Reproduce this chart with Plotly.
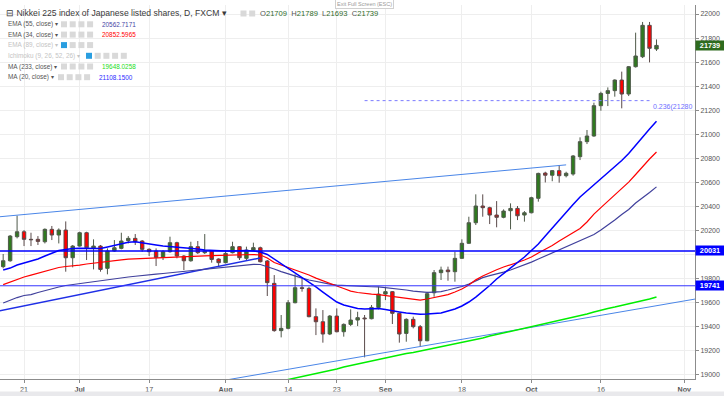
import plotly.graph_objects as go

# ---------------- data ----------------
dates = [
    "2017-06-16",
    "2017-06-19", "2017-06-20", "2017-06-21", "2017-06-22", "2017-06-23",
    "2017-06-26", "2017-06-27", "2017-06-28", "2017-06-29", "2017-06-30",
    "2017-07-03", "2017-07-04", "2017-07-05", "2017-07-06", "2017-07-07",
    "2017-07-10", "2017-07-11", "2017-07-12", "2017-07-13", "2017-07-14",
    "2017-07-17", "2017-07-18", "2017-07-19", "2017-07-20", "2017-07-21",
    "2017-07-24", "2017-07-25", "2017-07-26", "2017-07-27", "2017-07-28",
    "2017-07-31", "2017-08-01", "2017-08-02", "2017-08-03", "2017-08-04",
    "2017-08-07", "2017-08-08", "2017-08-09", "2017-08-10", "2017-08-11",
    "2017-08-14", "2017-08-15", "2017-08-16", "2017-08-17", "2017-08-18",
    "2017-08-21", "2017-08-22", "2017-08-23", "2017-08-24", "2017-08-25",
    "2017-08-28", "2017-08-29", "2017-08-30", "2017-08-31", "2017-09-01",
    "2017-09-04", "2017-09-05", "2017-09-06", "2017-09-07", "2017-09-08",
    "2017-09-11", "2017-09-12", "2017-09-13", "2017-09-14", "2017-09-15",
    "2017-09-18", "2017-09-19", "2017-09-20", "2017-09-21", "2017-09-22",
    "2017-09-25", "2017-09-26", "2017-09-27", "2017-09-28", "2017-09-29",
    "2017-10-02", "2017-10-03", "2017-10-04", "2017-10-05", "2017-10-06",
    "2017-10-09", "2017-10-10", "2017-10-11", "2017-10-12", "2017-10-13",
    "2017-10-16", "2017-10-17", "2017-10-18", "2017-10-19", "2017-10-20",
    "2017-10-23", "2017-10-24", "2017-10-25", "2017-10-26",
]

opens = [19900, 19949, 20149, 20190, 20127, 20127, 20107, 20210, 20163, 20204,
         19974, 20071, 20182, 20055, 20071, 19886, 20030, 20052, 20116, 20135,
         20113, 20044, 20030, 19977, 20024, 20099, 19988, 19949, 20066, 20016,
         20030, 19963, 19933, 20016, 20066, 19969, 20038, 20057, 19947, 19761,
         19368, 19387, 19600, 19725, 19719, 19484, 19442, 19340, 19489, 19359,
         19420, 19456, 19473, 19467, 19561, 19672, 19692, 19512, 19345, 19462,
         19401, 19284, 19683, 19850, 19872, 19858, 19969, 20094, 20265, 20404,
         20390, 20329, 20310, 20365, 20384, 20329, 20348, 20468, 20678, 20660,
         20698, 20656, 20670, 20814, 20939, 20986, 21238, 21340, 21363, 21451,
         21335, 21562, 21645, 21906, 21709]
highs = [20005, 20163, 20324, 20204, 20182, 20154, 20218, 20238, 20218, 20276,
         20080, 20190, 20190, 20127, 20080, 20052, 20121, 20182, 20154, 20171,
         20121, 20052, 20052, 20038, 20149, 20107, 19996, 20107, 20113, 20171,
         20038, 19969, 20038, 20107, 20071, 20066, 20099, 20066, 19955, 19830,
         19498, 19622, 19836, 19803, 19733, 19553, 19539, 19498, 19553, 19428,
         19545, 19525, 19498, 19581, 19733, 19733, 19697, 19517, 19470, 19484,
         19415, 19690, 19872, 19900, 19900, 20024, 20127, 20315, 20501, 20501,
         20398, 20445, 20376, 20426, 20404, 20362, 20481, 20681, 20689, 20703,
         20745, 20689, 20828, 20975, 21036, 21263, 21354, 21390, 21457, 21521,
         21568, 21845, 21934, 21934, 21789]
lows = [19886, 19941, 20135, 20071, 20071, 20080, 20093, 20121, 20093, 19858,
        19894, 20066, 19955, 19877, 19858, 19836, 20024, 20044, 20093, 20080,
        20024, 19988, 19905, 19955, 20016, 19969, 19872, 19941, 20005, 20005,
        19933, 19905, 19927, 20010, 19955, 19955, 20030, 19935, 19656, 19359,
        19312, 19379, 19595, 19692, 19479, 19331, 19268, 19331, 19354, 19318,
        19406, 19406, 19146, 19462, 19545, 19622, 19423, 19268, 19276, 19387,
        19235, 19280, 19650, 19789, 19783, 19775, 19965, 20088, 20246, 20315,
        20254, 20227, 20302, 20210, 20287, 20274, 20343, 20440, 20600, 20610,
        20598, 20642, 20656, 20786, 20919, 20980, 21196, 21235, 21313, 21216,
        21318, 21555, 21634, 21598, 21693]
closes = [19949, 20154, 20190, 20127, 20124, 20110, 20210, 20163, 20204, 19974,
          20071, 20182, 20057, 20071, 19877, 20030, 20057, 20113, 20135, 20107,
          20044, 20024, 19977, 20024, 20099, 19988, 19949, 20066, 20016, 20030,
          19960, 19933, 20010, 20066, 19974, 20038, 20058, 19941, 19767, 19368,
          19387, 19600, 19725, 19719, 19484, 19442, 19340, 19489, 19359, 19420,
          19456, 19476, 19467, 19561, 19672, 19692, 19512, 19340, 19462, 19401,
          19284, 19675, 19850, 19872, 19858, 19969, 20094, 20265, 20404, 20390,
          20329, 20310, 20362, 20384, 20323, 20348, 20473, 20675, 20660, 20698,
          20656, 20676, 20820, 20939, 20986, 21238, 21340, 21363, 21451, 21335,
          21562, 21651, 21906, 21715, 21739]

ma20 = [19872, 19888, 19913, 19930, 19947, 19963, 19988, 20013, 20034, 20042,
        20051, 20052, 20050, 20049, 20051, 20064, 20078, 20092, 20103, 20107,
        20100, 20090, 20080, 20071, 20067, 20063, 20059, 20055, 20046, 20038,
        20034, 20030, 20030, 20030, 20034, 20034, 20030, 20022, 20001, 19963,
        19922, 19888, 19847, 19805, 19772, 19731, 19689, 19647, 19606, 19581,
        19564, 19552, 19548, 19552, 19552, 19543, 19531, 19523, 19514, 19506,
        19504, 19506, 19510, 19514, 19531, 19548, 19573, 19606, 19647, 19693,
        19743, 19797, 19843, 19888, 19930, 19980, 20034, 20088, 20154, 20221,
        20287, 20354, 20416, 20479, 20529, 20578, 20624, 20674, 20724, 20782,
        20840, 20911, 20977, 21044, 21108]
ema34 = [19751, 19772, 19797, 19814, 19830, 19847, 19864, 19880, 19893, 19901,
         19905, 19913, 19922, 19930, 19938, 19944, 19951, 19957, 19962, 19965,
         19967, 19969, 19972, 19976, 19980, 19982, 19984, 19986, 19988, 19990,
         19992, 19994, 19997, 19997, 20001, 20001, 20001, 19997, 19972, 19934,
         19913, 19893, 19872, 19855, 19830, 19805, 19785, 19764, 19739, 19718,
         19697, 19685, 19677, 19672, 19668, 19660, 19652, 19643, 19635, 19627,
         19622, 19631, 19643, 19652, 19668, 19689, 19714, 19747, 19790, 19822,
         19850, 19874, 19897, 19913, 19934, 19955, 19980, 20013, 20042, 20076,
         20113, 20146, 20180, 20217, 20271, 20337, 20391, 20445, 20499, 20553,
         20603, 20666, 20732, 20795, 20853]
ema55 = [19598, 19622, 19643, 19660, 19668, 19685, 19701, 19718, 19731, 19743,
         19751, 19760, 19768, 19780, 19788, 19794, 19801, 19807, 19814, 19820,
         19824, 19830, 19837, 19843, 19849, 19856, 19864, 19870, 19876, 19882,
         19888, 19895, 19901, 19907, 19913, 19918, 19919, 19918, 19901, 19880,
         19859, 19839, 19822, 19805, 19789, 19776, 19764, 19755, 19747, 19743,
         19739, 19736, 19735, 19733, 19731, 19726, 19720, 19714, 19706, 19697,
         19689, 19686, 19689, 19693, 19706, 19718, 19735, 19755, 19785, 19809,
         19826, 19839, 19855, 19872, 19893, 19913, 19938, 19963, 19988, 20013,
         20038, 20063, 20088, 20113, 20138, 20167, 20204, 20242, 20287, 20333,
         20375, 20429, 20470, 20516, 20563]
ma233_start = 40  # MA(233) is only visible from mid-August
ma233 = [18949, 18961, 18974, 18986, 18999, 19011, 19024, 19036, 19049, 19065,
         19078, 19090, 19103, 19115, 19128, 19140, 19153, 19165, 19178, 19186,
         19198, 19207, 19219, 19232, 19244, 19256, 19269, 19281, 19294, 19307,
         19323, 19336, 19348, 19361, 19373, 19386, 19398, 19410, 19423, 19435,
         19452, 19465, 19477, 19490, 19506, 19523, 19540, 19552, 19564, 19577,
         19589, 19606, 19618, 19631, 19648]

# drawn objects
upper_trend_dates = ["2017-06-15", "2017-10-09"]
upper_trend_vals = [20312, 20746]
lower_trend_dates = ["2017-07-28", "2017-11-03"]
lower_trend_vals = [18937, 19635]
blue_trend_dates = ["2017-06-15", "2017-08-08"]
blue_trend_vals = [19527, 19972]
fib_dates = ["2017-08-29", "2017-10-25"]
fib_level = 21280
fib_label = "0.236(21280"
level_lines = [20031, 19741]
last_close = 21739

x_tick_dates = ["2017-06-21", "2017-07-03", "2017-07-17", "2017-08-01", "2017-08-14",
                "2017-08-23", "2017-09-01", "2017-09-18", "2017-10-02", "2017-10-16",
                "2017-11-01"]
x_tick_text = ["21", "<b>Jul</b>", "17", "<b>Aug</b>", "14", "23", "<b>Sep</b>", "18",
               "<b>Oct</b>", "16", "<b>Nov</b>"]
# price ticks; the 20000 label is hidden behind the 20031 marker in the reference
y_tick_vals = [19000, 19200, 19400, 19600, 19800, 20000, 20200, 20400, 20600, 20800,
               21000, 21200, 21400, 21600, 21800, 22000]
y_tick_text = ["19000", "19200", "19400", "19600", "19800", "", "20200", "20400", "20600",
               "20800", "21000", "21200", "21400", "21600", "21800", "22000"]

title_text = "⊟ Nikkei 225 index of Japanese listed shares, D, FXCM ▾"
ohlc_text = ("O<span style='color:#2f6b2a'>21709</span>  H<span style='color:#2f6b2a'>21789</span>  "
             "L<span style='color:#2f6b2a'>21693</span>  C<span style='color:#2f6b2a'>21739</span>")
legend_rows = [
    ("EMA (55, close) ▾", "#555555", "20562.7171", "#4545a5", 4, False),
    ("EMA (34, close) ▾", "#555555", "20852.5965", "#ff0000", 4, False),
    ("EMA (89, close) ▾", "#c4c4c4", "", "#000000", 4, True),
    ("Ichimoku (9, 26, 52, 26) ▾", "#c4c4c4", "", "#000000", 5, True),
    ("MA (233, close) ▾", "#555555", "19648.0258", "#22dd22", 4, False),
    ("MA (20, close) ▾", "#555555", "21108.1500", "#2a2aff", 4, False),
]

# ---------------- layout geometry ----------------
W, H = 724, 396
ML, MR, MT, MB = 0, 29, 5, 17
PW, PH = W - ML - MR, H - MT - MB
FONT = "Liberation Sans, Arial, sans-serif"


def px(x):
    return (x - ML) / PW


def py(y):
    return (H - MB - y) / PH


fig = go.Figure()

fig.add_trace(go.Candlestick(
    x=dates, open=opens, high=highs, low=lows, close=closes,
    increasing=dict(fillcolor="#2f7a1f", line=dict(color="#4f5a4a", width=1)),
    decreasing=dict(fillcolor="#ff0000", line=dict(color="#5a4a4a", width=1)),
    whiskerwidth=0, showlegend=False, hoverinfo="skip"))

# drawn trend lines
fig.add_trace(go.Scatter(x=upper_trend_dates, y=upper_trend_vals, mode="lines",
                         line=dict(color="#4a86e8", width=1), showlegend=False, hoverinfo="skip"))
fig.add_trace(go.Scatter(x=lower_trend_dates, y=lower_trend_vals, mode="lines",
                         line=dict(color="#4a86e8", width=1), showlegend=False, hoverinfo="skip"))
fig.add_trace(go.Scatter(x=blue_trend_dates, y=blue_trend_vals, mode="lines",
                         line=dict(color="#1f2fe6", width=1.5), showlegend=False, hoverinfo="skip"))

# indicator lines
fig.add_trace(go.Scatter(x=dates[ma233_start:], y=ma233, mode="lines",
                         line=dict(color="#00ee00", width=1.5), showlegend=False, hoverinfo="skip"))
fig.add_trace(go.Scatter(x=dates, y=ema55, mode="lines",
                         line=dict(color="#40409c", width=1.2), showlegend=False, hoverinfo="skip"))
fig.add_trace(go.Scatter(x=dates, y=ema34, mode="lines",
                         line=dict(color="#ff0000", width=1.2), showlegend=False, hoverinfo="skip"))
fig.add_trace(go.Scatter(x=dates, y=ma20, mode="lines",
                         line=dict(color="#0000ff", width=1.5), showlegend=False, hoverinfo="skip"))

# fib level
fig.add_trace(go.Scatter(x=fib_dates, y=[fib_level, fib_level], mode="lines",
                         line=dict(color="#7b7bff", width=1, dash="dot"), showlegend=False, hoverinfo="skip"))

# horizontal levels
fig.add_hline(y=level_lines[0], line=dict(color="#0000ff", width=1.5))
fig.add_hline(y=level_lines[1], line=dict(color="#3535ff", width=1))

ann = []
# price labels on axis
for val, bg in [(last_close, "#2e6b1e"), (level_lines[0], "#0000ff"), (level_lines[1], "#0000ff")]:
    ann.append(dict(x=1, xref="paper", y=val, yref="y", xanchor="left", yanchor="middle",
                    text="<b>%d</b>" % val, showarrow=False, bgcolor=bg, width=26, height=7,
                    borderpad=1, font=dict(family=FONT, size=7.3, color="white")))
# fib label
ann.append(dict(x=fib_dates[1], xref="x", y=fib_level, yref="y", xanchor="left", yanchor="top",
                xshift=1, text=fib_label, showarrow=False,
                font=dict(family=FONT, size=7, color="#6f6fff")))

# title / OHLC
ann.append(dict(x=px(4), y=py(13), xref="paper", yref="paper", xanchor="left", yanchor="middle",
                text=title_text, showarrow=False, font=dict(family=FONT, size=8.6, color="#3a3a3a")))
ann.append(dict(x=px(258), y=py(13.5), xref="paper", yref="paper", xanchor="left", yanchor="middle",
                text=ohlc_text, showarrow=False, font=dict(family=FONT, size=7.6, color="#555555")))
# "Exit Full Screen" tooltip
ann.append(dict(x=px(364), y=py(3.6), xref="paper", yref="paper", xanchor="center", yanchor="middle",
                text="Exit Full Screen (ESC)", showarrow=False, bgcolor="white",
                bordercolor="#d0d0d0", borderwidth=1, borderpad=1,
                font=dict(family=FONT, size=5.5, color="#9a9a9a")))

shapes = []


def icon_row(x0, yc, n, first_blue):
    for k in range(n):
        xl = x0 + k * 8.7
        col = "#2a9ee0" if (first_blue and k == 0) else "#d9d9d9"
        shapes.append(dict(type="rect", xref="paper", yref="paper",
                           x0=px(xl), x1=px(xl + 6), y0=py(yc + 3), y1=py(yc - 3),
                           fillcolor=col, line=dict(width=0), layer="above"))


row_y = [24.3, 34.6, 45.1, 55.8, 66.5, 77.2]
for (label, lcol, val, vcol, nicons, blue), yc in zip(legend_rows, row_y):
    ann.append(dict(x=px(5.5), y=py(yc), xref="paper", yref="paper", xanchor="left", yanchor="middle",
                    text=label, showarrow=False, font=dict(family=FONT, size=6.4, color=lcol)))
    start = 86 if nicons == 5 else (58 if label.startswith("MA (20") else 61)
    icon_row(start, yc, nicons, blue)
    if val:
        vx = start + nicons * 8.7 + 4
        ann.append(dict(x=px(vx), y=py(yc), xref="paper", yref="paper", xanchor="left", yanchor="middle",
                        text=val, showarrow=False, font=dict(family=FONT, size=6.4, color=vcol)))

# title row icons
icon_row(240.5, 13.5, 2, False)
# bottom toolbar strip
shapes.append(dict(type="rect", xref="paper", yref="paper", x0=0, x1=px(W), y0=py(H), y1=py(391.5),
                   fillcolor="#e9e9ec", line=dict(width=0), layer="above"))

fig.update_layout(
    width=W, height=H,
    margin=dict(l=ML, r=MR, t=MT, b=MB),
    paper_bgcolor="white", plot_bgcolor="white",
    showlegend=False,
    annotations=ann,
    shapes=list(fig.layout.shapes) + shapes,
    font=dict(family=FONT),
    xaxis=dict(
        type="date",
        range=["2017-06-15 13:00", "2017-11-02 13:00"],
        rangebreaks=[dict(bounds=["sat", "mon"])],
        rangeslider=dict(visible=False),
        tickmode="array", tickvals=x_tick_dates, ticktext=x_tick_text,
        showgrid=True, gridcolor="#eeeeee", gridwidth=1,
        showline=True, linecolor="#8c8c8c", linewidth=1,
        ticks="outside", ticklen=3, tickcolor="#8c8c8c",
        tickfont=dict(family=FONT, size=7.2, color="#555555"),
        fixedrange=True,
    ),
    yaxis=dict(
        side="right",
        range=[18966, 22075],
        tickmode="array", tickvals=y_tick_vals, ticktext=y_tick_text,
        showgrid=True, gridcolor="#eeeeee", gridwidth=1,
        showline=True, linecolor="#8c8c8c", linewidth=1,
        ticks="outside", ticklen=3, tickcolor="#8c8c8c",
        tickfont=dict(family=FONT, size=7, color="#555555"),
        zeroline=False, fixedrange=True,
    ),
)

fig.write_html("out.html", config={"displayModeBar": False},
               post_script="document.body.style.margin='0';document.body.style.padding='0';")
